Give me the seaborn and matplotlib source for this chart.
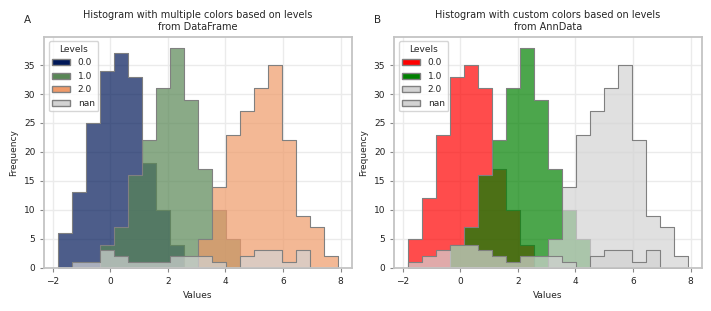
import numpy as np
import pandas as pd
import seaborn as sns
import matplotlib.pyplot as plt
from matplotlib.patches import Patch

sns.set_style("whitegrid")
plt.rcParams.update({
    "axes.edgecolor": "#c4c4c4",
    "axes.linewidth": 1.3,
    "grid.color": "#ebebeb",
    "grid.linewidth": 1.0,
    "xtick.bottom": True,
    "ytick.left": True,
    "xtick.color": "#888888",
    "ytick.color": "#888888",
    "xtick.labelcolor": "#222222",
    "ytick.labelcolor": "#222222",
    "xtick.major.size": 3,
    "ytick.major.size": 3,
    "xtick.labelsize": 6.5,
    "ytick.labelsize": 6.5,
    "axes.labelsize": 6.5,
    "axes.titlesize": 7,
    "legend.fontsize": 6.5,
    "legend.title_fontsize": 6.5,
})

# shared bins (20 bins over the data range)
bin_lo, bin_hi, n_bins = -1.8, 7.9, 20
levels = ["0.0", "1.0", "2.0", "nan"]

# counts per bin, panel A (DataFrame)
df_counts = {
    "0.0": [6, 13, 25, 34, 37, 33, 18, 10, 4, 0, 0, 0, 0, 0, 0, 0, 0, 0, 0, 0],
    "1.0": [0, 0, 0, 4, 7, 16, 22, 31, 38, 29, 17, 10, 5, 0, 0, 0, 0, 0, 0, 0],
    "2.0": [0, 0, 0, 0, 0, 0, 0, 0, 0, 0, 5, 14, 23, 27, 31, 35, 22, 9, 7, 2],
    "nan": [0, 1, 1, 3, 2, 1, 1, 1, 2, 2, 2, 1, 0, 2, 3, 3, 1, 3, 0, 0],
}
# counts per bin, panel B (AnnData)
ad_counts = {
    "0.0": [5, 12, 23, 33, 35, 31, 17, 10, 4, 0, 0, 0, 0, 0, 0, 0, 0, 0, 0, 0],
    "1.0": [0, 0, 0, 4, 7, 16, 22, 31, 38, 29, 17, 10, 5, 0, 0, 0, 0, 0, 0, 0],
    "2.0": [0, 0, 0, 0, 0, 0, 0, 0, 0, 0, 5, 14, 23, 27, 31, 35, 22, 9, 7, 2],
    "nan": [1, 2, 3, 4, 4, 3, 2, 1, 2, 2, 2, 1, 0, 2, 3, 3, 1, 3, 0, 0],
}

df_colors = ["#011959", "#588655", "#ef9a69", "lightgray"]
ad_colors = ["red", "green", "lightgray", "lightgray"]

edges = np.linspace(bin_lo, bin_hi, n_bins + 1)
centers = (edges[:-1] + edges[1:]) / 2

fig, axes = plt.subplots(1, 2, figsize=(7.11, 3.11), dpi=100)
fig.subplots_adjust(left=0.0623, right=0.9869, bottom=0.1392, top=0.882, wspace=0.1386)

panels = [
    (axes[0], df_counts, df_colors, "Histogram with multiple colors based on levels\nfrom DataFrame", "A"),
    (axes[1], ad_counts, ad_colors, "Histogram with custom colors based on levels\nfrom AnnData", "B"),
]

for ax, counts, colors, title, letter in panels:
    for lev, col in zip(levels, colors):
        d = pd.DataFrame({"value": centers, "count": counts[lev]})
        sns.histplot(data=d, x="value", weights="count", bins=list(edges),
                     element="step", fill=True, alpha=0.7, color=col,
                     edgecolor="gray", linewidth=0.8, ax=ax)
    handles = [Patch(facecolor=c, edgecolor="gray") for c in colors]
    ax.legend(handles, levels, title="Levels", loc="upper left")
    ax.set_title(title, pad=5)
    ax.set_xlabel("Values")
    ax.set_ylabel("Frequency")
    ax.set_xticks([-2, 0, 2, 4, 6, 8])
    ax.set_yticks(range(0, 36, 5))
    pos = ax.get_position()
    fig.text(pos.x0 - 0.029, 0.925, letter, fontsize=7.5)

fig.savefig("out.png", dpi=100)
